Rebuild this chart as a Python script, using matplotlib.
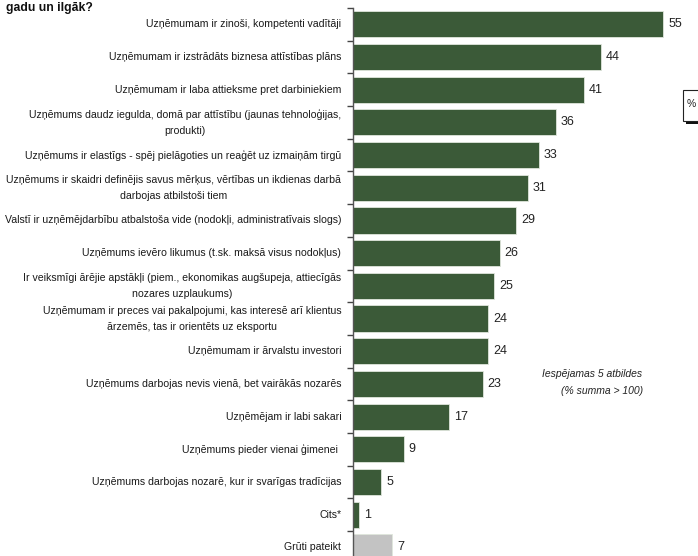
import matplotlib
matplotlib.use("Agg")
import matplotlib.pyplot as plt
from matplotlib.patches import Rectangle

plt.rcParams['font.family'] = ['Liberation Sans', 'DejaVu Sans']

categories = [
    "Uzņēmumam ir zinoši, kompetenti vadītāji",
    "Uzņēmumam ir izstrādāts biznesa attīstības plāns",
    "Uzņēmumam ir laba attieksme pret darbiniekiem",
    "Uzņēmums daudz iegulda, domā par attīstību (jaunas tehnoloģijas,\nprodukti)",
    "Uzņēmums ir elastīgs - spēj pielāgoties un reaģēt uz izmaiņām tirgū",
    "Uzņēmums ir skaidri definējis savus mērķus, vērtības un ikdienas darbā\ndarbojas atbilstoši tiem",
    "Valstī ir uzņēmējdarbību atbalstoša vide (nodokļi, administratīvais slogs)",
    "Uzņēmums ievēro likumus (t.sk. maksā visus nodokļus)",
    "Ir veiksmīgi ārējie apstākļi (piem., ekonomikas augšupeja, attiecīgās\nnozares uzplaukums)",
    "Uzņēmumam ir preces vai pakalpojumi, kas interesē arī klientus\nārzemēs, tas ir orientēts uz eksportu",
    "Uzņēmumam ir ārvalstu investori",
    "Uzņēmums darbojas nevis vienā, bet vairākās nozarēs",
    "Uzņēmējam ir labi sakari",
    "Uzņēmums pieder vienai ģimenei ",
    "Uzņēmums darbojas nozarē, kur ir svarīgas tradīcijas",
    "Cits*",
    "Grūti pateikt",
]
values = [55, 44, 41, 36, 33, 31, 29, 26, 25, 24, 24, 23, 17, 9, 5, 1, 7]
is_grey = [False] * 16 + [True]

green = "#3b5a38"
grey = "#c3c3c3"

W, H = 698, 556
fig = plt.figure(figsize=(W / 100, H / 100), dpi=100)
fig.patch.set_facecolor("white")

top_px, bottom_px = 8, 563.7
left_px = 353
ax = fig.add_axes([left_px / W, 1 - bottom_px / H, (W - left_px) / W, (bottom_px - top_px) / H])

n = len(categories)
ys = list(range(n))
colors = [grey if g else green for g in is_grey]
ax.barh(ys, values, height=0.8, color=colors, edgecolor="#dfe6dc", linewidth=0.6, zorder=2)
ax.set_ylim(n - 0.5, -0.5)
ax.set_xlim(0, (W - left_px) / 5.636)

for y, v in zip(ys, values):
    ax.text(v + 0.9, y, str(v), va="center", ha="left", fontsize=9, color="#222222")

for y, c in zip(ys, categories):
    ax.text(-2.1, y, c, va="center", ha="right", ma="center", fontsize=7.6,
            color="#1a1a1a", linespacing=1.75)

for s in ["top", "right", "bottom"]:
    ax.spines[s].set_visible(False)
ax.spines["left"].set_color("#555555")
ax.spines["left"].set_linewidth(1.0)
ax.set_xticks([])
ax.set_yticks([i - 0.5 for i in range(n + 1)])
ax.set_yticklabels([])
ax.tick_params(axis="y", direction="out", length=4, width=1, color="#444444")

fig.text(6 / W, 1 - 8 / H, "gadu un ilgāk?", fontsize=8.8, fontweight="bold",
         ha="left", va="center", color="#111111")

fig.text(592 / W, 1 - 374 / H, "Iespējamas 5 atbildes", fontsize=7.5, style="italic",
         ha="center", va="center", color="#222222")
fig.text(602 / W, 1 - 391 / H, "(% summa > 100)", fontsize=7.5, style="italic",
         ha="center", va="center", color="#222222")

# '%' box with shadow, cut at right edge
fig.patches.append(Rectangle((686 / W, 1 - 124 / H), 20 / W, 31 / H, transform=fig.transFigure,
                             facecolor="#111111", edgecolor="none", zorder=3))
fig.patches.append(Rectangle((683 / W, 1 - 121 / H), 20 / W, 31 / H, transform=fig.transFigure,
                             facecolor="white", edgecolor="#222222", linewidth=0.8, zorder=4))
fig.text(691 / W, 1 - 104 / H, "%", fontsize=7.5, ha="center", va="center", color="#222222", zorder=5)

fig.savefig("out.png", dpi=100)
